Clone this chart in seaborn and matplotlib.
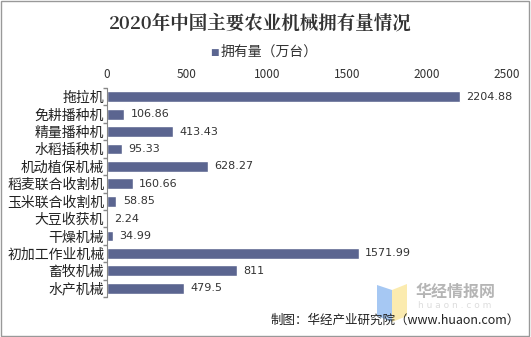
import matplotlib
matplotlib.use("Agg")
import matplotlib.pyplot as plt
import seaborn as sns
import pandas as pd
from matplotlib.patches import Polygon, Rectangle

categories = ["拖拉机", "免耕播种机", "精量播种机", "水稻插秧机", "机动植保机械", "稻麦联合收割机",
              "玉米联合收割机", "大豆收获机", "干燥机械", "初加工作业机械", "畜牧机械", "水产机械"]
values = [2204.88, 106.86, 413.43, 95.33, 628.27, 160.66, 58.85, 2.24, 34.99, 1571.99, 811, 479.5]
value_labels = ["2204.88", "106.86", "413.43", "95.33", "628.27", "160.66", "58.85", "2.24", "34.99", "1571.99", "811", "479.5"]
xticks = [0, 500, 1000, 1500, 2000, 2500]

sns.set_theme(style="white")
plt.rcParams['font.family'] = ['Noto Sans CJK SC', 'DejaVu Sans']

df = pd.DataFrame({"cat": categories, "val": values})
color = "#5b6590"

fig = plt.figure(figsize=(5.31, 3.37), dpi=100)
fig.patch.set_facecolor("white")
ax = fig.add_axes([107/531, 1-297/337, 400/531, 209/337])
sns.barplot(data=df, y="cat", x="val", color=color, width=0.62, saturation=1, ax=ax, orient="h")
ax.set_xlim(0, 2500)
ax.set_xticks(xticks)
ax.xaxis.tick_top()
ax.tick_params(axis="x", length=0, labelsize=8.5, pad=5, colors="#333333")
ax.tick_params(axis="y", length=4, labelsize=10, colors="#222222", left=True, pad=2)
ax.set_xlabel("")
ax.set_ylabel("")
for s in ["top", "right", "bottom"]:
    ax.spines[s].set_visible(False)
ax.spines["left"].set_color("#888888")
ax.spines["left"].set_linewidth(0.8)
ax.set_yticks([i for i in range(len(categories))])
ax.set_yticks([i - 0.5 for i in range(len(categories) + 1)], minor=True)
ax.tick_params(axis="y", which="major", length=0)
ax.tick_params(axis="y", which="minor", length=3, color="#888888", left=True)

for i, (v, lab) in enumerate(zip(values, value_labels)):
    ax.text(v + 40, i, lab, va="center", ha="left", fontsize=8, color="#333333",
            family=["DejaVu Sans"])

fig.text(0.49, 1-24/337, "2020年中国主要农业机械拥有量情况", ha="center", va="center",
         fontsize=13.3, fontweight="bold", color="#333333", family=["Noto Serif CJK SC", "Noto Sans CJK SC"])
fig.text(214/531, 1-52/337, "■", ha="center", va="center", fontsize=6.5, color=color, family=["DejaVu Sans"])
fig.text(221/531, 1-52/337, "拥有量（万台）", ha="left", va="center", fontsize=10, color="#333333")

# watermark logo
fig.patches.append(Polygon([[377/531, 1-285/337], [392/531, 1-290/337], [392/531, 1-322/337], [377/531, 1-316/337]],
                           closed=True, transform=fig.transFigure, facecolor="#9cc2f2", edgecolor="none", alpha=0.9))
fig.patches.append(Polygon([[392/531, 1-290/337], [407/531, 1-284/337], [407/531, 1-316/337], [392/531, 1-322/337]],
                           closed=True, transform=fig.transFigure, facecolor="#fbe9a6", edgecolor="none", alpha=0.9))
fig.text(416/531, 1-292/337, "华经情报网", ha="left", va="center", fontsize=11.5, fontweight="bold", color="#b5b5b5")
fig.text(418/531, 1-306/337, "h u a o n . c o m", ha="left", va="center", fontsize=6.5, color="#dddddd",
         family=["DejaVu Sans"])

fig.text(520/531, 1-320/337, "制图：华经产业研究院（www.huaon.com）", ha="right", va="center", fontsize=9, color="#222222")

fig.patches.append(Rectangle((0.002, 0.003), 0.995, 0.993, transform=fig.transFigure,
                             fill=False, edgecolor="#999999", linewidth=1))

fig.savefig("out.png", dpi=100)
